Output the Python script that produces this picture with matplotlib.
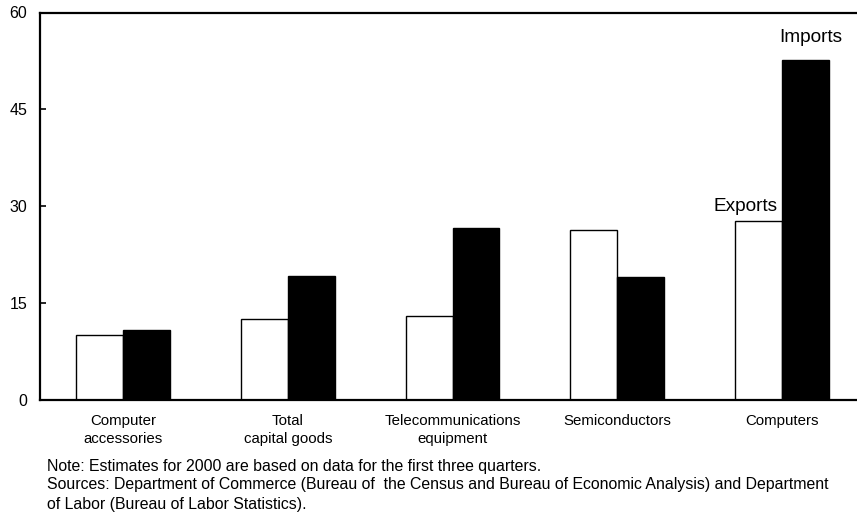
import numpy as np
import matplotlib
matplotlib.use('Agg')
import matplotlib.pyplot as plt

plt.rcParams['font.family'] = ['Liberation Sans', 'DejaVu Sans']

categories = ['Computer\naccessories', 'Total\ncapital goods', 'Telecommunications\nequipment',
              'Semiconductors', 'Computers']
exports = [10.1, 12.5, 13.0, 26.3, 27.7]
imports = [10.8, 19.2, 26.6, 19.0, 52.7]
y_ticks = [0, 15, 30, 45, 60]

fig = plt.figure(figsize=(8.57, 5.16), dpi=100)
ax = fig.add_axes([40 / 857, 1 - 400 / 516, 1 - 40 / 857, (400 - 12.5) / 516])

x = np.arange(len(categories))
w = 0.285
ax.bar(x - w / 2, exports, w, color='white', edgecolor='black', linewidth=1.0)
ax.bar(x + w / 2, imports, w, color='black', edgecolor='black', linewidth=1.0)

ax.set_xlim(-0.504, 4.455)
ax.set_ylim(0, 60)
ax.set_yticks(y_ticks)
ax.set_xticks(x)
ax.set_xticklabels(categories, fontsize=10.8, linespacing=1.35)
ax.tick_params(axis='x', length=0, pad=10)
ax.tick_params(axis='y', direction='in', length=4, width=1.2, labelsize=11.5, pad=9)

for side in ['left', 'top', 'bottom']:
    ax.spines[side].set_linewidth(1.6)
ax.spines['right'].set_visible(False)

# series labels next to the Computers bars
ax.text(x[-1] - w / 2 - 0.08, exports[-1] + 2.3, 'Exports', ha='center', va='center', fontsize=13.7)
ax.text(x[-1] + w / 2 + 0.03, imports[-1] + 3.4, 'Imports', ha='center', va='center', fontsize=13.7)

fig.text(47 / 857, 1 - 466 / 516, 'Note: Estimates for 2000 are based on data for the first three quarters.',
         ha='left', va='center', fontsize=11.4)
fig.text(47 / 857, 1 - 485 / 516,
         'Sources: Department of Commerce (Bureau of  the Census and Bureau of Economic Analysis) and Department',
         ha='left', va='center', fontsize=11.4)
fig.text(47 / 857, 1 - 504 / 516, 'of Labor (Bureau of Labor Statistics).',
         ha='left', va='center', fontsize=11.4)

plt.savefig('out.png', dpi=100)
